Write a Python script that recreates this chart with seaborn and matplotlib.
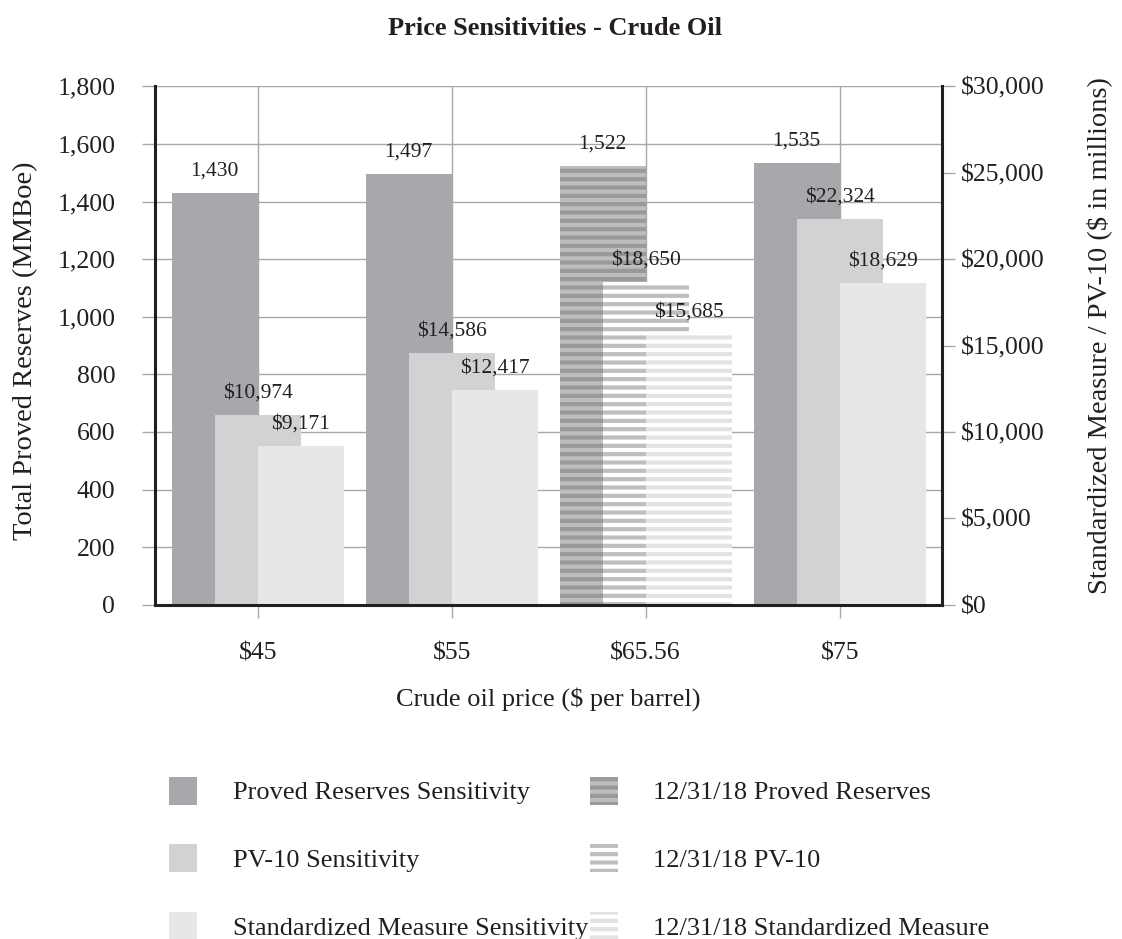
# Price sensitivities - crude oil: reserves (left axis) vs PV-10 / standardized measure (right axis)
import numpy as np
import pandas as pd
import matplotlib
matplotlib.use('Agg')
import matplotlib.pyplot as plt
import matplotlib.patches as mpatches
from matplotlib.ticker import FuncFormatter
import seaborn as sns

# data
prices = ['$45', '$55', '$65.56', '$75']
reserves = [1430, 1497, 1522, 1535]          # MMBoe
pv10 = [10974, 14586, 18650, 22324]          # $ millions
std_measure = [9171, 12417, 15685, 18629]    # $ millions
base_case = 2                                 # 12/31/18 price case (striped bars)

legend_labels = ['Proved Reserves Sensitivity', 'PV-10 Sensitivity',
                 'Standardized Measure Sensitivity', '12/31/18 Proved Reserves',
                 '12/31/18 PV-10', '12/31/18 Standardized Measure']

sns.set_theme(style='white')
plt.rcParams['font.family'] = ['Liberation Serif', 'DejaVu Serif']
plt.rcParams['hatch.linewidth'] = 3.0

c_res, c_pv, c_sm = '#a7a8ab', '#d1d2d4', '#e6e7e8'
# (face, stripe) colours for the striped 12/31/18 bars
stripes = [('#bcbdbf', '#98999b'), ('#ffffff', '#bdbec0'), ('#ffffff', '#e2e3e4')]
grid_c = '#a8a8a8'
spine_c = '#231f20'
txt_c = '#231f20'

fig = plt.figure(figsize=(11.22, 9.39), dpi=100)
ax = fig.add_axes([0.138, 0.356, 0.702, 0.552])
ax2 = ax.twinx()

idx = np.arange(len(prices))
w = 0.443
off = 0.222

df = pd.DataFrame({'price': prices, 'reserves': reserves, 'pv10': pv10, 'sm': std_measure})

sns.barplot(x=idx - off, y=df['reserves'], native_scale=True, width=w, color=c_res,
            saturation=1, linewidth=0, errorbar=None, ax=ax)
sns.barplot(x=idx + 0.0, y=df['pv10'], native_scale=True, width=w, color=c_pv,
            saturation=1, linewidth=0, errorbar=None, ax=ax2)
sns.barplot(x=idx + off, y=df['sm'], native_scale=True, width=w, color=c_sm,
            saturation=1, linewidth=0, errorbar=None, ax=ax2)

# stripe the base-case bars
conts = [ax.containers[0], ax2.containers[0], ax2.containers[1]]
for cont, (face, line) in zip(conts, stripes):
    p = cont.patches[base_case]
    p.set_facecolor(face)
    p.set_edgecolor(line)
    p.set_hatch('--')
    p.set_linewidth(0)

lab_fs = 15.5
ax.bar_label(ax.containers[0], fmt='{:,.0f}', padding=9, fontsize=lab_fs, color=txt_c)
ax2.bar_label(ax2.containers[0], fmt='${:,.0f}', padding=9, fontsize=lab_fs, color=txt_c)
ax2.bar_label(ax2.containers[1], fmt='${:,.0f}', padding=9, fontsize=lab_fs, color=txt_c)

ax.set_xlim(-0.53, len(prices) - 0.47)
ax.set_ylim(0, 1800)
ax2.set_ylim(0, 30000)
ax.set_xticks(idx)
ax.set_xticklabels(prices)
ax.set_yticks(np.arange(0, 1801, 200))
ax2.set_yticks(np.arange(0, 30001, 5000))
ax.yaxis.set_major_formatter(FuncFormatter(lambda v, p: f'{v:,.0f}'))
ax2.yaxis.set_major_formatter(FuncFormatter(lambda v, p: f'${v:,.0f}'))

ax.set_axisbelow(True)
ax.grid(True, color=grid_c, linewidth=1)
ax2.grid(False)

tick_fs = 18.5
ax.tick_params(axis='y', which='major', left=True, length=9.5, width=1, color=grid_c,
               pad=19, labelsize=tick_fs, labelcolor=txt_c)
ax.tick_params(axis='x', which='major', bottom=True, length=9.5, width=1, color=grid_c,
               pad=18, labelsize=tick_fs, labelcolor=txt_c)
ax2.tick_params(axis='y', which='major', right=True, length=9.5, width=1, color=grid_c,
                pad=4, labelsize=tick_fs, labelcolor=txt_c)

# spines drawn by the top (twin) axes so bars never cover them
for s in ax.spines.values():
    s.set_visible(False)
ax2.spines['top'].set_visible(False)
for s in ('left', 'bottom', 'right'):
    ax2.spines[s].set_color(spine_c)
    ax2.spines[s].set_linewidth(2.2)

ax.set_xlabel('Crude oil price ($ per barrel)', fontsize=19, color=txt_c, labelpad=16)
ax.set_ylabel('Total Proved Reserves (MMBoe)', fontsize=20.5, color=txt_c, labelpad=14)
ax2.set_ylabel('Standardized Measure / PV-10 ($ in millions)', fontsize=20.5,
               color=txt_c, labelpad=30)
ax.yaxis.label.set_y(0.49)
ax2.yaxis.label.set_y(0.52)

fig.text(0.495, 0.97, 'Price Sensitivities - Crude Oil', ha='center', va='center',
         fontsize=19, fontweight='bold', color=txt_c)

# legend: solid sensitivities in the first column, striped base case in the second
handles = [mpatches.Patch(facecolor=c, linewidth=0) for c in (c_res, c_pv, c_sm)]
handles += [mpatches.Patch(facecolor=f, edgecolor=l, hatch='--', linewidth=0) for f, l in stripes]
fig.legend(handles, legend_labels, ncol=2, loc='upper left', bbox_to_anchor=(0.1506, 0.173),
           frameon=False, fontsize=19, borderpad=0, borderaxespad=0,
           handlelength=1.06, handleheight=1.255, handletextpad=1.36,
           columnspacing=0.05, labelspacing=1.51, labelcolor=txt_c)

fig.savefig('out.png', dpi=100)
